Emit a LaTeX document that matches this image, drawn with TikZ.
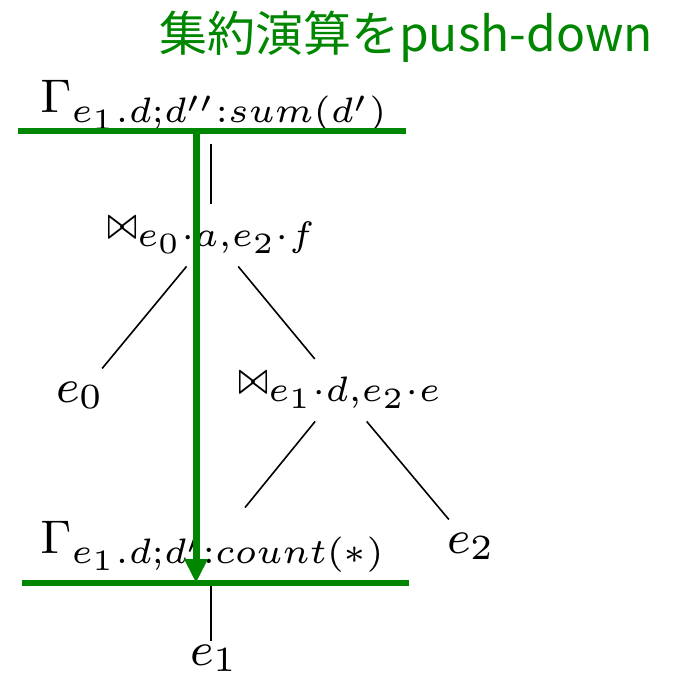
\documentclass[tikz,border=0pt]{standalone}
\usepackage{fontspec}
\usepackage{graphicx}
\newfontfamily\cjkfont{Noto Sans CJK JP}
\usetikzlibrary{arrows.meta,calc}
\definecolor{pgreen}{RGB}{0,134,0}
\newcommand{\bigmath}[1]{\scalebox{5.9}{\footnotesize$#1$}}
\newcommand{\bt}{\mathrel{\scalebox{0.72}[0.95]{$\bowtie$}}}
\tikzset{
  lbl/.style={inner sep=13pt,anchor=base west},
  edge/.style={draw=black,line width=1.6pt},
  bar/.style={draw=pgreen,line width=6.5pt},
  push/.style={draw=pgreen,line width=7pt,-{Triangle[width=22pt,length=24pt]}},
}
\begin{document}
\begin{tikzpicture}[x=1pt,y=-1pt]
\useasboundingbox (0,0) rectangle (674,681);
% title
\node[text=pgreen,font=\cjkfont\fontsize{48}{54}\selectfont] (title) at (406,37) {集約演算をpush-down};
% operator labels
\node[lbl] (gtop) at (27,112) {\bigmath{\Gamma_{e_1.d;d'':sum(d')}}};
\node[lbl] (j1) at (94,238) {\bigmath{\bt_{e_0\cdot a,e_2\cdot f}}};
\node[lbl] (e0) at (43,402) {\bigmath{e_0}};
\node[lbl] (j2) at (225,393) {\bigmath{\bt_{e_1\cdot d,e_2\cdot e}}};
\node[lbl] (e2) at (434,553) {\bigmath{e_2}};
\node[lbl] (gbot) at (27,553) {\bigmath{\Gamma_{e_1.d;d':count(*)}}};
\node[lbl,inner sep=5pt] (e1) at (185,665) {\bigmath{e_1}};
% tree edges
\coordinate (t1) at (211,137);
\coordinate (t2) at (211,641);
\draw[edge] (gtop.south -| t1) -- (j1.north -| t1);
\draw[edge] (j1) -- (e0);
\draw[edge] (j1) -- (j2);
\draw[edge] (j2) -- (gbot);
\draw[edge] (j2) -- (e2);
\draw[edge] (gbot.south -| t1) -- (t2);
% green bars and arrow
\coordinate (b1l) at (18,131);
\coordinate (b1r) at (406,131);
\coordinate (b2l) at (22,583);
\coordinate (b2r) at (409,583);
\coordinate (atop) at (196,131);
\coordinate (abot) at (196,583);
\draw[bar] (b1l) -- (b1r);
\draw[bar] (b2l) -- (b2r);
\draw[push] (atop) -- (abot);
\end{tikzpicture}
\end{document}
